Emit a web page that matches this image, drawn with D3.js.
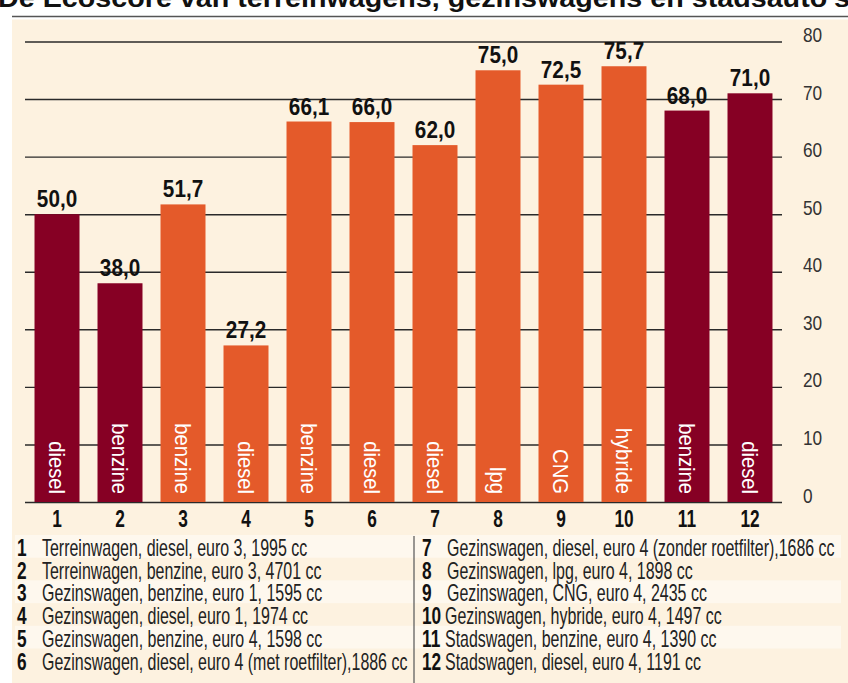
<!DOCTYPE html>
<html><head><meta charset="utf-8">
<script src="https://cdn.jsdelivr.net/npm/d3@7"></script>
<style>
body{margin:0;background:#fff;}
svg text{font-family:"Liberation Sans",Arial,sans-serif;}
</style></head><body>
<svg id="c" width="848" height="683"></svg>
<script>
const categories = ["1","2","3","4","5","6","7","8","9","10","11","12"];
const values = [50.0, 38.0, 51.7, 27.2, 66.1, 66.0, 62.0, 75.0, 72.5, 75.7, 68.0, 71.0];
const fuels = ["diesel","benzine","benzine","diesel","benzine","diesel","diesel","lpg","CNG","hybride","benzine","diesel"];
const groups = ["terrein","terrein","gezin","gezin","gezin","gezin","gezin","gezin","gezin","gezin","stad","stad"];
const yTicks = [0,10,20,30,40,50,60,70,80];
const legendText = [
 "Terreinwagen, diesel, euro 3, 1995 cc",
 "Terreinwagen, benzine, euro 3, 4701 cc",
 "Gezinswagen, benzine, euro 1, 1595 cc",
 "Gezinswagen, diesel, euro 1, 1974 cc",
 "Gezinswagen, benzine, euro 4, 1598 cc",
 "Gezinswagen, diesel, euro 4 (met roetfilter),1886 cc",
 "Gezinswagen, diesel, euro 4 (zonder roetfilter),1686 cc",
 "Gezinswagen, lpg, euro 4, 1898 cc",
 "Gezinswagen, CNG, euro 4, 2435 cc",
 "Gezinswagen, hybride, euro 4, 1497 cc",
 "Stadswagen, benzine, euro 4, 1390 cc",
 "Stadswagen, diesel, euro 4, 1191 cc"
];
const title = "De Ecoscore van terreinwagens, gezinswagens en stadsauto's";

const svg = d3.select("#c");
const color = d3.scaleOrdinal().domain(["terrein","gezin","stad"]).range(["#860024","#E45A2A","#860024"]);

// condensed text: placed at (px,py), horizontally scaled by f (reference uses a condensed typeface)
function ctext(parent, px, py, f, rot) {
  return parent.append("text")
    .attr("transform", `translate(${px},${py})${rot ? ` rotate(${rot})` : ""} scale(${f},1)`);
}

// title (cut off at top)
svg.append("text").attr("x", -2).attr("y", 7).attr("font-size", 26).attr("font-weight", "bold")
  .attr("fill", "#111").attr("textLength", 852).attr("lengthAdjust","spacingAndGlyphs").text(title);
svg.append("line").attr("x1", 12).attr("x2", 848).attr("y1", 16.5).attr("y2", 16.5).attr("stroke", "#555").attr("stroke-width", 1.5);

// background
svg.append("rect").attr("x", 12).attr("y", 19.5).attr("width", 836).attr("height", 664).attr("fill", "#FDF2E0");

const x = d3.scaleBand().domain(categories).range([25, 782]).paddingInner(0.286).paddingOuter(0.151);
const y = d3.scaleLinear().domain([0, 80]).range([502, 41.5]);

// gridlines + right axis
const axis = d3.axisRight(y).tickValues(yTicks).tickSize(-(782-25)).tickPadding(20).tickFormat(d3.format("d"));
const ga = svg.append("g").attr("transform", "translate(782,0)").call(axis);
ga.select(".domain").remove();
ga.selectAll(".tick line").attr("stroke", "#2a2a2a").attr("stroke-width", 1.4);
ga.selectAll(".tick text").attr("font-size", 21).attr("fill", "#333").attr("x", 0).attr("dy", 0)
  .attr("transform", "translate(21,0) scale(0.82,1)")
  .attr("font-family", '"Liberation Sans",Arial,sans-serif');

// bars
svg.append("g").selectAll("rect").data(categories).join("rect")
  .attr("x", d => x(d)).attr("width", x.bandwidth())
  .attr("y", (d,i) => y(values[i])).attr("height", (d,i) => y(0) - y(values[i]))
  .attr("fill", (d,i) => color(groups[i]));

const gVal = svg.append("g"), gFuel = svg.append("g"), gX = svg.append("g");
categories.forEach((c, i) => {
  const cx = x(c) + x.bandwidth()/2;
  // value label
  ctext(gVal, cx, y(values[i]) - 7, 0.9)
    .attr("text-anchor", "middle").attr("font-size", 23).attr("font-weight", "bold").attr("fill", "#111")
    .text(d3.format(".1f")(values[i]).replace(".", ","));
  // fuel label inside bar
  ctext(gFuel, cx, y(0) - 8, 0.92, 90)
    .attr("text-anchor", "end").attr("dy", "0.35em").attr("font-size", 22).attr("fill", "#fff")
    .text(fuels[i]);
  // x label
  ctext(gX, cx, 527, 0.72)
    .attr("text-anchor", "middle").attr("font-size", 24).attr("font-weight", "bold").attr("fill", "#111")
    .text(c);
});

// legend
const rowH = 22.7, legTop = 535;
const lg = svg.append("g");
for (let r = 0; r < 6; r++) {
  if (r % 2 === 0) lg.append("rect").attr("x", 15).attr("y", legTop + r*rowH).attr("width", 826).attr("height", rowH).attr("fill", "#FEF8EE");
}
lg.append("line").attr("x1", 414).attr("x2", 414).attr("y1", 536).attr("y2", 683).attr("stroke", "#555").attr("stroke-width", 1.2);
categories.forEach((c, i) => {
  const col = i < 6 ? 0 : 1, r = i % 6;
  const bx = col === 0 ? 17 : 422;
  const by = legTop + r*rowH + 21;
  ctext(lg, bx, by, 0.72).attr("font-size", 24).attr("font-weight", "bold").attr("fill", "#111").text(c);
  ctext(lg, c.length > 1 ? bx + 23 : bx + 25, by, 0.665).attr("font-size", 24).attr("fill", "#222").text(legendText[i]);
});
</script></body></html>
